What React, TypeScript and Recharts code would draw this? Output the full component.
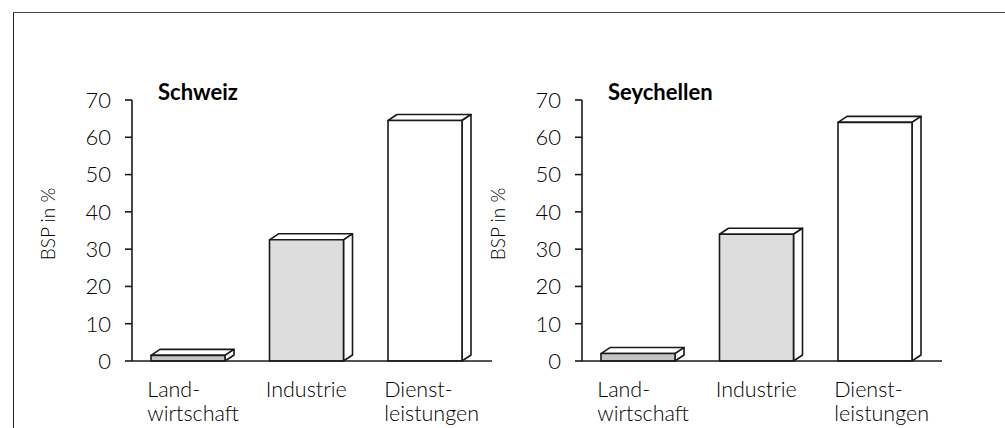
import React from 'react';
import { BarChart, Bar, XAxis, YAxis, Customized } from 'recharts';

// Anteil am BSP nach Sektoren (in %)
const categories = ['Landwirtschaft', 'Industrie', 'Dienstleistungen'];
const categoryLines = [['Land-', 'wirtschaft'], ['Industrie'], ['Dienst-', 'leistungen']];
const schweizValues = [1.5, 32.5, 64.5];
const seychellenValues = [2, 34, 64];
const yTicks = [0, 10, 20, 30, 40, 50, 60, 70];

const FONT = 'Lato, "Open Sans", sans-serif';
const INK = '#1a1a1a';
const TEXT = '#000';
const barFills = ['#c4c4c4', '#dddddd', '#ffffff'];
const DEPTH_X = 9;
const DEPTH_Y = 6;

const Box3D = (props: any) => {
  const { x, y, width, height, index } = props;
  if (width == null || height == null) return null;
  const fill = barFills[index] ?? '#fff';
  const r = x + width;
  const b = y + height;
  return (
    <g stroke={INK} strokeWidth={1.6} strokeLinejoin="round">
      <polygon
        points={`${x},${y} ${x + DEPTH_X},${y - DEPTH_Y} ${r + DEPTH_X},${y - DEPTH_Y} ${r},${y}`}
        fill="#fff"
      />
      <polygon
        points={`${r},${y} ${r + DEPTH_X},${y - DEPTH_Y} ${r + DEPTH_X},${b - DEPTH_Y} ${r},${b}`}
        fill="#fff"
      />
      <rect x={x} y={y} width={width} height={height} fill={fill} />
    </g>
  );
};

const CategoryTick = (props: any) => {
  const { x, y, index } = props;
  const lines = categoryLines[index] ?? [];
  return (
    <text
      x={x - 41}
      y={y}
      fontFamily={FONT}
      fontSize={21.5}
      fontWeight={300}
      fill={TEXT}
      textAnchor="start"
    >
      {lines.map((line, i) => (
        <tspan key={i} x={x - 41} dy={i === 0 ? 36 : 24}>
          {line}
        </tspan>
      ))}
    </text>
  );
};

const Overlay = ({ title }: { title: string }) => (
  <g>
    <text x={158} y={100} fontFamily={FONT} fontSize={22} fontWeight={700} fill={TEXT}>
      {title}
    </text>
    <text
      transform="translate(47,224) rotate(-90)"
      textAnchor="middle"
      dominantBaseline="central"
      fontFamily={FONT}
      fontSize={19}
      fontWeight={300}
      fill={TEXT}
    >
      BSP in %
    </text>
  </g>
);

const CountryChart = ({ title, values }: { title: string; values: number[] }) => {
  const data = categories.map((c, i) => ({ name: c, value: values[i] }));
  return (
    <BarChart
      width={495}
      height={428}
      data={data}
      margin={{ top: 100, right: 3, left: 0, bottom: 7 }}
    >
      <XAxis
        dataKey="name"
        height={60}
        padding={{ left: -3, right: 7.5 }}
        tickLine={false}
        tickSize={0}
        tickMargin={0}
        axisLine={{ stroke: INK, strokeWidth: 1.6 }}
        tick={<CategoryTick />}
        interval={0}
      />
      <YAxis
        width={132}
        domain={[0, 70]}
        ticks={yTicks}
        interval={0}
        tickSize={7}
        tickMargin={14}
        axisLine={{ stroke: INK, strokeWidth: 1.6 }}
        tickLine={{ stroke: INK, strokeWidth: 1.6 }}
        tick={{ fill: TEXT, fontSize: 22, fontFamily: FONT, fontWeight: 300 }}
      />
      <Bar dataKey="value" barSize={74} shape={<Box3D />} isAnimationActive={false} />
      <Customized component={<Overlay title={title} />} />
    </BarChart>
  );
};

export default function App() {
  return (
    <div
      style={{
        position: 'absolute',
        left: 0,
        top: 0,
        width: 1005,
        height: 428,
        background: '#fff',
        overflow: 'hidden',
      }}
    >
      <div
        style={{
          position: 'absolute',
          left: 13,
          top: 12,
          width: 1000,
          height: 500,
          borderTop: '1.5px solid #444',
          borderLeft: '1.5px solid #222',
        }}
      />
      <div style={{ position: 'absolute', left: 0, top: 0 }}>
        <CountryChart title="Schweiz" values={schweizValues} />
      </div>
      <div style={{ position: 'absolute', left: 450, top: 0 }}>
        <CountryChart title="Seychellen" values={seychellenValues} />
      </div>
    </div>
  );
}
